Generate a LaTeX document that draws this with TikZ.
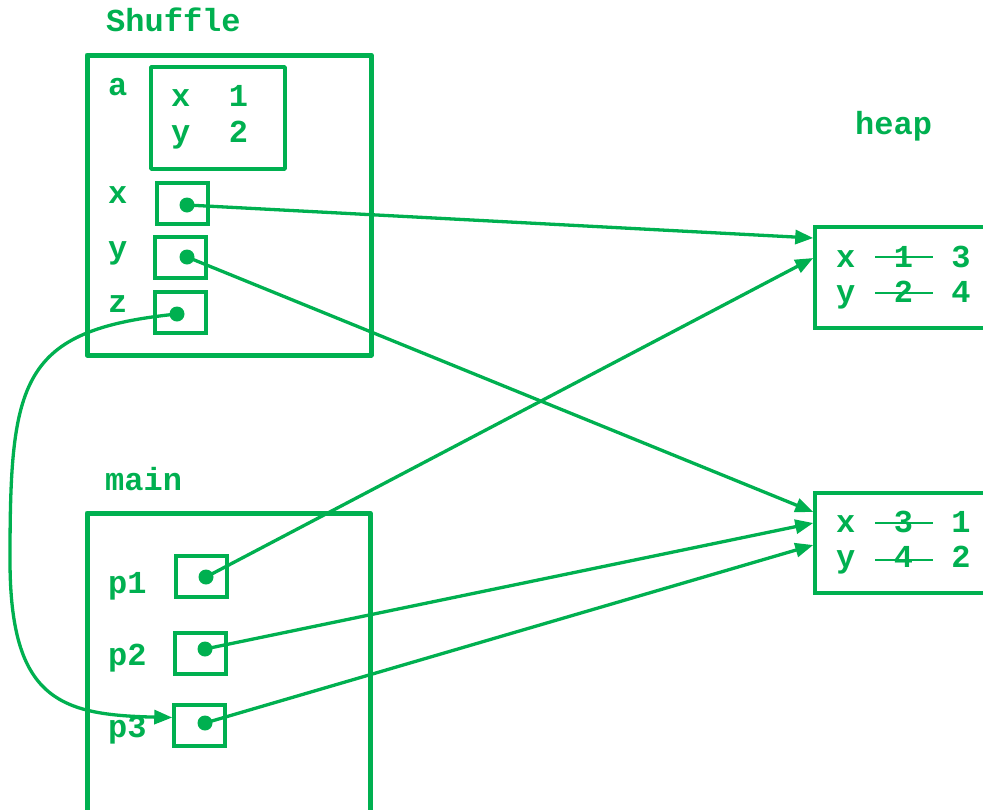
\documentclass[tikz,border=0pt]{standalone}
\usepackage{fontspec}
\setmainfont{Liberation Mono}
\usetikzlibrary{arrows.meta}
\definecolor{tracegreen}{HTML}{00B050}
\tikzset{
  txt/.style={inner sep=0, anchor=base west, text=tracegreen, font=\fontsize{32}{32}\selectfont\bfseries},
  frm/.style={draw=tracegreen, line width=5pt, line join=round},
  cell/.style={draw=tracegreen, line width=3.5pt, inner sep=0},
  ptr/.style={circle, fill=tracegreen, inner sep=0, minimum size=15pt},
  link/.style={draw=tracegreen, line width=3.3pt, -{Triangle[length=18pt,width=14pt]}}
}
\begin{document}
\begin{tikzpicture}[x=1pt,y=-1pt]
\useasboundingbox (0,0) rectangle (983,809);
% Shuffle frame
\node[txt] (lshuf) at (106,31){Shuffle};
\draw[frm] (87,55) rectangle (371,355);
\node[txt] (la) at (108,95){a};
\draw[frm, line width=3.5pt] (151,67) rectangle (285,169);
\node[txt] (ax) at (171,106){x\ \ 1};
\node[txt] (ay) at (171,142){y\ \ 2};
\node[txt] (lx) at (108,203){x};
\node[txt] (ly) at (108,258){y};
\node[txt] (lz) at (108,312){z};
\node[cell, minimum width=51pt, minimum height=41pt] (bx) at (182.5,203.5){};
\node[cell, minimum width=51pt, minimum height=41pt] (by) at (180.5,257.5){};
\node[cell, minimum width=51pt, minimum height=41pt] (bz) at (180.5,312.5){};
\node[ptr] (dx) at (187,205){};
\node[ptr] (dy) at (187,257){};
\node[ptr] (dz) at (177,314){};
% main frame
\node[txt] (lmain) at (105,490){main};
\draw[frm] (87,820) -- (87,513) -- (370,513) -- (370,820);
\node[txt] (lp1) at (108,593){p1};
\node[txt] (lp2) at (108,665){p2};
\node[txt] (lp3) at (108,737){p3};
\node[cell, minimum width=51pt, minimum height=41pt] (bp1) at (201.5,576.5){};
\node[cell, minimum width=51pt, minimum height=41pt] (bp2) at (200.5,653.5){};
\node[cell, minimum width=51pt, minimum height=41pt] (bp3) at (199.5,725.5){};
\node[ptr] (dp1) at (206,577){};
\node[ptr] (dp2) at (205,649){};
\node[ptr] (dp3) at (205,723){};
% heap
\node[txt] (lheap) at (855,134){heap};
\node[cell, minimum width=190pt, minimum height=101pt] (heapA) at (910,277.5){};
\node[txt] (hax) at (836,267){x\ \ 1\ \ 3};
\node[txt] (hay) at (836,302){y\ \ 2\ \ 4};
\draw[tracegreen, line width=2pt] (875,257) -- (933,257);
\draw[tracegreen, line width=2pt] (875,293) -- (933,293);
\node[cell, minimum width=190pt, minimum height=100pt] (heapB) at (910,543){};
\node[txt] (hbx) at (836,532){x\ \ 3\ \ 1};
\node[txt] (hby) at (836,567){y\ \ 4\ \ 2};
\draw[tracegreen, line width=2pt] (875,523) -- (933,523);
\draw[tracegreen, line width=2pt] (875,560) -- (933,560);
% pointers
\draw[link] (dx.center) -- ([yshift=39.5pt]heapA.west);
\draw[link] (dy.center) -- ([yshift=31pt]heapB.west);
\draw[link] (dp1.center) -- ([yshift=19.5pt]heapA.west);
\draw[link] (dp2.center) -- ([yshift=20pt]heapB.west);
\draw[link] (dp3.center) -- ([yshift=-2pt]heapB.west);
\draw[link] (dz.center) .. controls (20,330) and (10,380) .. (10,560)
  .. controls (10,700) and (60,715) .. ([yshift=8pt]bp3.west);
\end{tikzpicture}
\end{document}
